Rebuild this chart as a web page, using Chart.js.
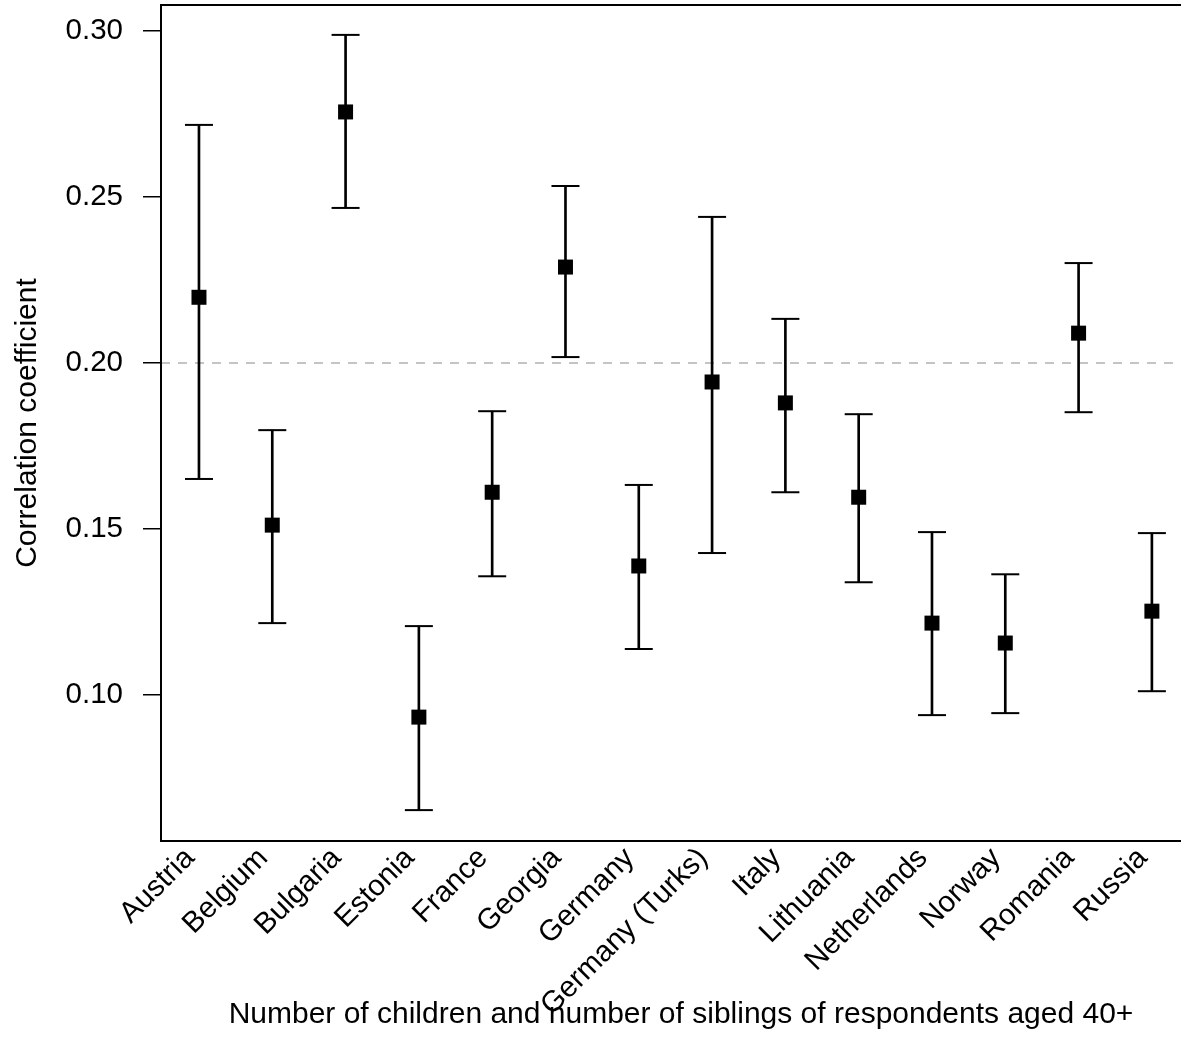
<!DOCTYPE html>
<html>
<head>
<meta charset="utf-8">
<script src="https://cdn.jsdelivr.net/npm/chart.js@4.4.1/dist/chart.umd.min.js"></script>
<style>
  html, body { margin: 0; padding: 0; background: #fff; overflow: hidden; }
  #wrap { position: relative; width: 1181px; height: 1037px; overflow: hidden; }
  #corrChart { position: absolute; left: 0; top: 0; }
</style>
</head>
<body>
<div id="wrap"><canvas id="corrChart" width="1201" height="1037"></canvas></div>
<script>
// values
const countries = ['Austria', 'Belgium', 'Bulgaria', 'Estonia', 'France', 'Georgia', 'Germany',
    'Germany (Turks)', 'Italy', 'Lithuania', 'Netherlands', 'Norway', 'Romania', 'Russia'];
const estimates = [0.2198, 0.1512, 0.2756, 0.0934, 0.1611, 0.2289, 0.1389,
    0.1943, 0.1880, 0.1596, 0.1217, 0.1157, 0.2090, 0.1253];
const lower = [0.1651, 0.1217, 0.2467, 0.0654, 0.1358, 0.2018, 0.1139,
    0.1428, 0.1611, 0.1340, 0.0940, 0.0946, 0.1852, 0.1012];
const upper = [0.2717, 0.1798, 0.2988, 0.1208, 0.1855, 0.2533, 0.1633,
    0.2440, 0.2133, 0.1846, 0.1491, 0.1364, 0.2301, 0.1488];
const yTicks = [0.10, 0.15, 0.20, 0.25, 0.30];
const refLine = 0.20;

const positions = countries.map((_, i) => i + 1);
const fontFamily = '"Liberation Sans", Arial, Helvetica, sans-serif';
const xMin = 0.482, xMax = 14.67;

// no extra room for overflowing labels, keep the plot box fixed
function noPadding(scale) {
    scale.paddingLeft = 0;
    scale.paddingRight = 0;
    scale.paddingTop = 0;
    scale.paddingBottom = 0;
}

const framePlugin = {
    id: 'frame',
    afterDraw(chart) {
        const { ctx, chartArea: a } = chart;
        ctx.save();
        ctx.strokeStyle = '#000';
        ctx.lineWidth = 2;
        ctx.strokeRect(a.left, a.top, a.right - a.left, a.bottom - a.top);
        ctx.restore();
    }
};

const ctx = document.getElementById('corrChart').getContext('2d');

new Chart(ctx, {
    type: 'bar',
    data: {
        datasets: [
            {
                type: 'line',
                label: 'reference',
                data: [{ x: xMin, y: refLine }, { x: xMax, y: refLine }],
                borderColor: '#c4c4c4',
                borderWidth: 2,
                borderDash: [9, 8],
                pointRadius: 0,
                order: 5
            },
            {
                type: 'bar',
                label: 'interval',
                data: positions.map((x, i) => ({ x: x, y: [lower[i], upper[i]] })),
                backgroundColor: '#000',
                barThickness: 2,
                order: 2
            },
            {
                type: 'line',
                label: 'upper',
                data: positions.map((x, i) => ({ x: x, y: upper[i] })),
                showLine: false,
                pointStyle: 'line',
                pointRadius: 14,
                pointBorderWidth: 2,
                pointBorderColor: '#000',
                order: 1
            },
            {
                type: 'line',
                label: 'lower',
                data: positions.map((x, i) => ({ x: x, y: lower[i] })),
                showLine: false,
                pointStyle: 'line',
                pointRadius: 14,
                pointBorderWidth: 2,
                pointBorderColor: '#000',
                order: 1
            },
            {
                type: 'line',
                label: 'estimate',
                data: positions.map((x, i) => ({ x: x, y: estimates[i] })),
                showLine: false,
                pointStyle: 'rect',
                pointRadius: 10.6,
                pointBorderWidth: 0,
                pointBackgroundColor: '#000',
                order: 0
            }
        ]
    },
    options: {
        responsive: false,
        animation: false,
        layout: { autoPadding: false, padding: { top: 5, right: 0, bottom: 0, left: 0 } },
        plugins: {
            legend: { display: false },
            tooltip: { enabled: false }
        },
        scales: {
            x: {
                type: 'linear',
                offset: false,
                min: xMin,
                max: xMax,
                afterBuildTicks: (scale) => {
                    scale.ticks = positions.map(v => ({ value: v }));
                },
                afterFit: (scale) => { scale.height = 196; noPadding(scale); },
                grid: { display: false, drawTicks: false },
                border: { display: false },
                ticks: {
                    autoSkip: false,
                    maxRotation: 45,
                    minRotation: 45,
                    padding: 0,
                    labelOffset: -9,
                    color: '#000',
                    font: { family: fontFamily, size: 29.5 },
                    callback: (v) => countries[Math.round(v) - 1]
                },
                title: {
                    display: true,
                    text: 'Number of children and number of siblings of respondents aged 40+',
                    color: '#000',
                    font: { family: fontFamily, size: 30, lineHeight: 1.2 },
                    padding: { top: 0, bottom: 4 }
                }
            },
            y: {
                min: 0.0561,
                max: 0.3078,
                afterBuildTicks: (scale) => {
                    scale.ticks = yTicks.map(v => ({ value: v }));
                },
                afterFit: (scale) => { scale.width = 161; noPadding(scale); },
                grid: {
                    drawOnChartArea: false,
                    drawTicks: true,
                    tickLength: 18,
                    color: '#000',
                    lineWidth: 1.5
                },
                border: { display: false },
                ticks: {
                    padding: 20,
                    color: '#000',
                    font: { family: fontFamily, size: 29.5 },
                    callback: (v) => v.toFixed(2)
                },
                title: {
                    display: true,
                    text: 'Correlation coefficient',
                    color: '#000',
                    font: { family: fontFamily, size: 30, lineHeight: 1.2 },
                    padding: { top: 10, bottom: 0 }
                }
            }
        }
    },
    plugins: [framePlugin]
});
</script>
</body>
</html>
